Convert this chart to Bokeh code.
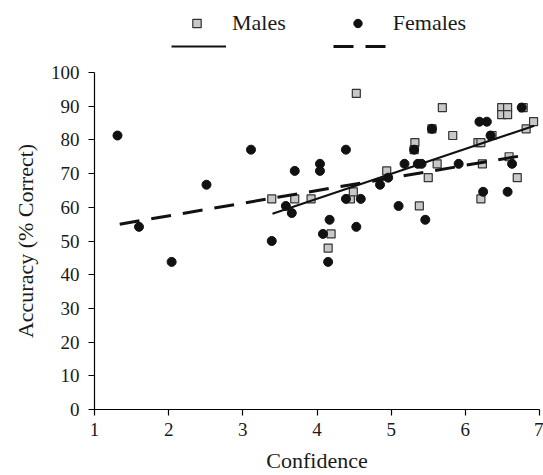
from bokeh.plotting import figure
from bokeh.layouts import column
from bokeh.models import Range1d, FixedTicker, Legend, LegendItem, ColumnDataSource
from bokeh.embed import file_html
from bokeh.resources import INLINE

# ---- data ----
male_conf = [3.39, 3.70, 3.92, 4.53, 4.19, 4.15, 4.45, 4.49, 4.94, 5.32, 5.31, 5.38,
             5.55, 5.50, 5.62, 5.69, 5.83, 6.17, 6.21, 6.36, 6.23, 6.21, 6.49, 6.57,
             6.49, 6.57, 6.59, 6.70, 6.82, 6.92, 6.78]
male_acc = [62.5, 62.5, 62.5, 93.8, 52.1, 47.9, 62.5, 64.6, 70.8, 79.2, 77.1, 60.4,
            83.3, 68.8, 72.9, 89.6, 81.3, 79.2, 79.2, 81.3, 72.9, 62.5, 89.6, 89.6,
            87.5, 87.5, 75.0, 68.8, 83.3, 85.4, 89.6]

female_conf = [1.31, 1.60, 2.04, 2.51, 3.11, 3.39, 3.58, 3.66, 3.70, 4.04, 4.04, 4.39,
               4.17, 4.08, 4.15, 4.53, 4.39, 4.59, 4.85, 4.96, 5.10, 5.31, 5.18, 5.36,
               5.41, 5.46, 5.55, 5.91, 6.19, 6.29, 6.34, 6.24, 6.76, 6.63, 6.57]
female_acc = [81.3, 54.2, 43.8, 66.7, 77.1, 50.0, 60.4, 58.3, 70.8, 72.9, 70.8, 77.1,
              56.3, 52.1, 43.8, 54.2, 62.5, 62.5, 66.7, 68.8, 60.4, 77.1, 72.9, 72.9,
              72.9, 56.3, 83.3, 72.9, 85.4, 85.4, 81.3, 64.6, 89.6, 72.9, 64.6]

male_trend_x = [3.40, 6.93]
male_trend_y = [58.1, 84.2]
female_trend_x = [1.34, 6.76]
female_trend_y = [55.0, 75.3]

x_ticks = [1, 2, 3, 4, 5, 6, 7]
y_ticks = [0, 10, 20, 30, 40, 50, 60, 70, 80, 90, 100]

series_names = ["Males", "Females"]
x_title = "Confidence"
y_title = "Accuracy (% Correct)"

FONT = "Liberation Serif"
TXT = "#1a1a1a"

W = 543
LEG_H = 62
H = 475 - LEG_H
BL, BR, BT, BB = 94, 4, 10, 66

MALE_STYLE = dict(marker="square", fill_color="#c8c8c8", line_color="#333333", line_width=1.2)
FEMALE_STYLE = dict(marker="circle", fill_color="#111111", line_color="#111111", line_width=1)
MLINE_STYLE = dict(line_color="#111111", line_width=2)
FLINE_STYLE = dict(line_color="#111111", line_width=3, line_dash="20 12")

msrc = ColumnDataSource(dict(x=male_conf, y=male_acc))
fsrc = ColumnDataSource(dict(x=female_conf, y=female_acc))
mtsrc = ColumnDataSource(dict(x=male_trend_x, y=male_trend_y))
ftsrc = ColumnDataSource(dict(x=female_trend_x, y=female_trend_y))

# ---------------- main chart ----------------
p = figure(width=W, height=H, x_range=Range1d(1, 7), y_range=Range1d(0, 100),
           output_backend="svg", toolbar_location=None,
           min_border_left=BL, min_border_right=BR, min_border_top=BT, min_border_bottom=BB)
p.outline_line_color = None
p.xgrid.visible = False
p.ygrid.visible = False
p.background_fill_color = "white"
p.border_fill_color = "white"

for ax, ticks in ((p.xaxis[0], x_ticks), (p.yaxis[0], y_ticks)):
    ax.ticker = FixedTicker(ticks=ticks)
    ax.minor_tick_line_color = None
    ax.major_tick_in = 0
    ax.major_tick_out = 6
    ax.axis_line_color = "black"
    ax.major_tick_line_color = "black"
    ax.axis_line_width = 1.2
    ax.major_tick_line_width = 1.2
    ax.major_label_text_font = FONT
    ax.major_label_text_font_size = "19px"
    ax.major_label_text_color = TXT
    ax.axis_label_text_font = FONT
    ax.axis_label_text_font_size = "22px"
    ax.axis_label_text_font_style = "normal"
    ax.axis_label_text_color = TXT

p.xaxis.axis_label = x_title
p.yaxis.axis_label = y_title
p.xaxis.major_label_standoff = 7
p.yaxis.major_label_standoff = 9
p.xaxis.axis_label_standoff = 9
p.yaxis.axis_label_standoff = 10

p.scatter("x", "y", source=msrc, size=8, **MALE_STYLE)
p.scatter("x", "y", source=fsrc, size=9, **FEMALE_STYLE)
p.line("x", "y", source=mtsrc, **MLINE_STYLE)
p.line("x", "y", source=ftsrc, **FLINE_STYLE)

# ---------------- legend strip above the chart ----------------
# The strip's range lies outside all data, so its renderers show only as legend symbols.
lg = figure(width=W, height=LEG_H, x_range=Range1d(-2, -1), y_range=Range1d(-2, -1),
            output_backend="svg", toolbar_location=None,
            x_axis_location=None, y_axis_location=None,
            min_border_left=0, min_border_right=0, min_border_top=0, min_border_bottom=0)
lg.outline_line_color = None
lg.xgrid.visible = False
lg.ygrid.visible = False
lg.background_fill_color = "white"
lg.border_fill_color = "white"

lm = lg.scatter("x", "y", source=msrc, size=8, **MALE_STYLE)
lf = lg.scatter("x", "y", source=fsrc, size=9, **FEMALE_STYLE)
llm = lg.line("x", "y", source=mtsrc, **MLINE_STYLE)
llf = lg.line("x", "y", source=ftsrc, **FLINE_STYLE)

common = dict(orientation="horizontal", padding=0, margin=0, border_line_color=None,
              background_fill_alpha=0, label_text_font=FONT, label_text_color=TXT)

leg_marks = Legend(items=[LegendItem(label=series_names[0], renderers=[lm]),
                          LegendItem(label=series_names[1], renderers=[lf])],
                   location=(92, 24), glyph_width=21, glyph_height=30,
                   label_standoff=25, spacing=61, label_height=30,
                   label_text_font_size="22px", **common)
leg_lines = Legend(items=[LegendItem(label=" ", renderers=[llm]),
                          LegendItem(label=" ", renderers=[llf])],
                   location=(77, 11), glyph_width=55, glyph_height=10,
                   label_standoff=0, spacing=107, label_width=0, label_height=10,
                   label_text_font_size="1px", **common)
lg.add_layout(leg_marks, "center")
lg.add_layout(leg_lines, "center")

layout = column(lg, p, spacing=0)
open("out.html", "w").write(file_html(layout, INLINE))
